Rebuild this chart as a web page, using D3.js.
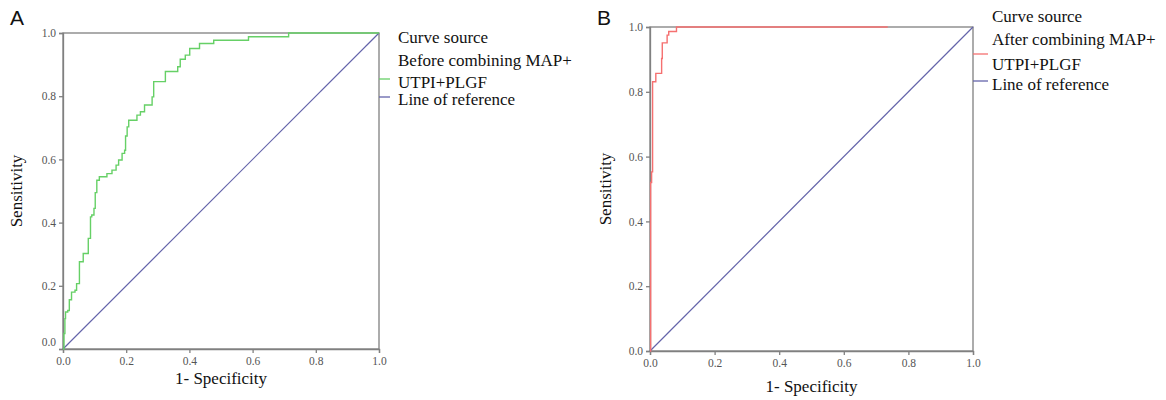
<!DOCTYPE html>
<html lang="en">
<head>
    <meta charset="UTF-8">
    <title>ROC curves A / B</title>
    <script src="https://d3js.org/d3.v7.min.js"></script>
    <style>
        body {
            margin: 0;
            background: #fff;
        }
        svg {
            display: block;
        }
        .axis-title, .legend-text {
            font-family: "Liberation Serif", "Times New Roman", serif;
            fill: #111;
        }
        .panel-letter {
            font-family: "Liberation Sans", Arial, sans-serif;
            font-size: 21px;
            fill: #111;
        }
    </style>
</head>
<body>

<div id="container"></div>

<script>
    // ROC points (1 - specificity, sensitivity)
    const fprA = [0, 0.003, 0.006, 0.008, 0.015, 0.02, 0.027, 0.038, 0.043, 0.052, 0.064, 0.08,
        0.087, 0.091, 0.098, 0.102, 0.107, 0.115, 0.139, 0.155, 0.168, 0.176, 0.187, 0.195,
        0.198, 0.203, 0.208, 0.234, 0.245, 0.258, 0.282, 0.287, 0.324, 0.363, 0.371, 0.387,
        0.401, 0.432, 0.477, 0.587, 0.714, 1];
    const sensA = [0, 0.049, 0.096, 0.117, 0.122, 0.156, 0.18, 0.186, 0.207, 0.276, 0.302, 0.35,
        0.418, 0.424, 0.445, 0.495, 0.534, 0.545, 0.555, 0.566, 0.582, 0.598, 0.619, 0.629,
        0.674, 0.703, 0.724, 0.74, 0.751, 0.772, 0.798, 0.846, 0.878, 0.893, 0.917, 0.93,
        0.951, 0.967, 0.977, 0.988, 1, 1];

    const fprB = [0, 0.002, 0.005, 0.008, 0.018, 0.036, 0.038, 0.053, 0.058, 0.082, 0.736];
    const sensB = [0, 0.52, 0.553, 0.831, 0.857, 0.903, 0.951, 0.975, 0.986, 1, 1];

    const refLine = [0, 1];
    const tickValues = [0, 0.2, 0.4, 0.6, 0.8, 1.0];

    const legendTitle = 'Curve source';
    const legendA = ['Before combining MAP+', 'UTPI+PLGF'];
    const legendB = ['After combining MAP+', 'UTPI+PLGF'];
    const refLabel = 'Line of reference';

    const frameColor = '#808080';
    const refColor = '#6464aa';

    const svg = d3.select('#container').append('svg')
        .attr('width', 1166)
        .attr('height', 400);

    function drawPanel(p) {
        const x = d3.scaleLinear().domain([0, 1]).range([p.left, p.right]);
        const y = d3.scaleLinear().domain([0, 1]).range([p.bottom, p.top]);
        const g = svg.append('g');

        // panel letter
        g.append('text')
            .attr('class', 'panel-letter')
            .attr('x', p.letterX)
            .attr('y', 25)
            .text(p.letter);

        // frame (top / right)
        g.append('rect')
            .attr('x', p.left)
            .attr('y', p.top)
            .attr('width', p.right - p.left)
            .attr('height', p.bottom - p.top)
            .attr('fill', 'none')
            .attr('stroke', frameColor)
            .attr('stroke-width', 1.3);

        // axes
        const xAxis = d3.axisBottom(x).tickValues(tickValues).tickSize(4).tickFormat(d3.format('.1f'));
        const yAxis = d3.axisLeft(y).tickValues(tickValues).tickSize(4).tickFormat(d3.format('.1f'));

        const gx = g.append('g')
            .attr('transform', `translate(0,${p.bottom})`)
            .call(xAxis);
        const gy = g.append('g')
            .attr('transform', `translate(${p.left},0)`)
            .call(yAxis);

        [gx, gy].forEach(a => {
            a.attr('font-family', '"Liberation Serif", "Times New Roman", serif')
                .attr('font-size', 11.5);
            a.select('.domain').attr('stroke', frameColor).attr('stroke-width', 1.3);
            a.selectAll('.tick line').attr('stroke', frameColor).attr('stroke-width', 1.3);
            a.selectAll('.tick text').attr('fill', '#555');
        });
        gx.selectAll('.tick text').attr('y', 8);
        gy.selectAll('.tick text').attr('x', -7)
            .attr('dy', (d) => (d === 0 ? p.zeroDy : '0.32em'));

        // reference diagonal
        const line = d3.line().x(d => x(d[0])).y(d => y(d[1]));
        g.append('path')
            .datum(refLine.map(v => [v, v]))
            .attr('d', line)
            .attr('fill', 'none')
            .attr('stroke', refColor)
            .attr('stroke-width', 1.2);

        // ROC curve as a staircase
        const stepLine = d3.line()
            .x(d => x(d[0]))
            .y(d => y(d[1]))
            .curve(d3.curveStepAfter);
        g.append('path')
            .datum(p.fpr.map((f, i) => [f, p.sens[i]]))
            .attr('d', stepLine)
            .attr('fill', 'none')
            .attr('stroke', p.color)
            .attr('stroke-width', 1.4);

        // axis titles
        g.append('text')
            .attr('class', 'axis-title')
            .attr('font-size', 17)
            .attr('text-anchor', 'middle')
            .attr('x', (p.left + p.right) / 2)
            .attr('y', p.xTitleY)
            .text('1- Specificity');

        g.append('text')
            .attr('class', 'axis-title')
            .attr('font-size', 17)
            .attr('text-anchor', 'middle')
            .attr('transform', `translate(${p.yTitleX},${(p.top + p.bottom) / 2}) rotate(-90)`)
            .text('Sensitivity');

        // legend
        const lx = p.right + 19;
        const texts = [legendTitle, p.legend[0], p.legend[1], refLabel];
        g.selectAll('.legend-text-' + p.letter)
            .data(texts)
            .enter()
            .append('text')
            .attr('class', 'legend-text')
            .attr('font-size', 17)
            .attr('x', lx)
            .attr('y', (d, i) => p.legendY[i])
            .text(d => d);

        g.append('line')
            .attr('x1', p.right).attr('x2', p.right + p.swatch)
            .attr('y1', p.curveKeyY).attr('y2', p.curveKeyY)
            .attr('stroke', p.color).attr('stroke-width', 1.3);
        g.append('line')
            .attr('x1', p.right).attr('x2', p.right + p.swatch)
            .attr('y1', p.refKeyY).attr('y2', p.refKeyY)
            .attr('stroke', refColor).attr('stroke-width', 1.3);
    }

    drawPanel({
        letter: 'A', letterX: 10,
        left: 63, right: 379, top: 33, bottom: 349,
        fpr: fprA, sens: sensA, color: '#66d066',
        zeroDy: '-0.3em',
        xTitleY: 384, yTitleX: 22,
        legend: legendA,
        legendY: [43, 66, 88, 105],
        curveKeyY: 79, refKeyY: 97, swatch: 11
    });

    drawPanel({
        letter: 'B', letterX: 597,
        left: 650, right: 973, top: 27, bottom: 351,
        fpr: fprB, sens: sensB, color: '#f57070',
        zeroDy: '0.32em',
        xTitleY: 392, yTitleX: 611,
        legend: legendB,
        legendY: [22, 45, 70, 90],
        curveKeyY: 54, refKeyY: 81, swatch: 15
    });
</script>

</body>
</html>
